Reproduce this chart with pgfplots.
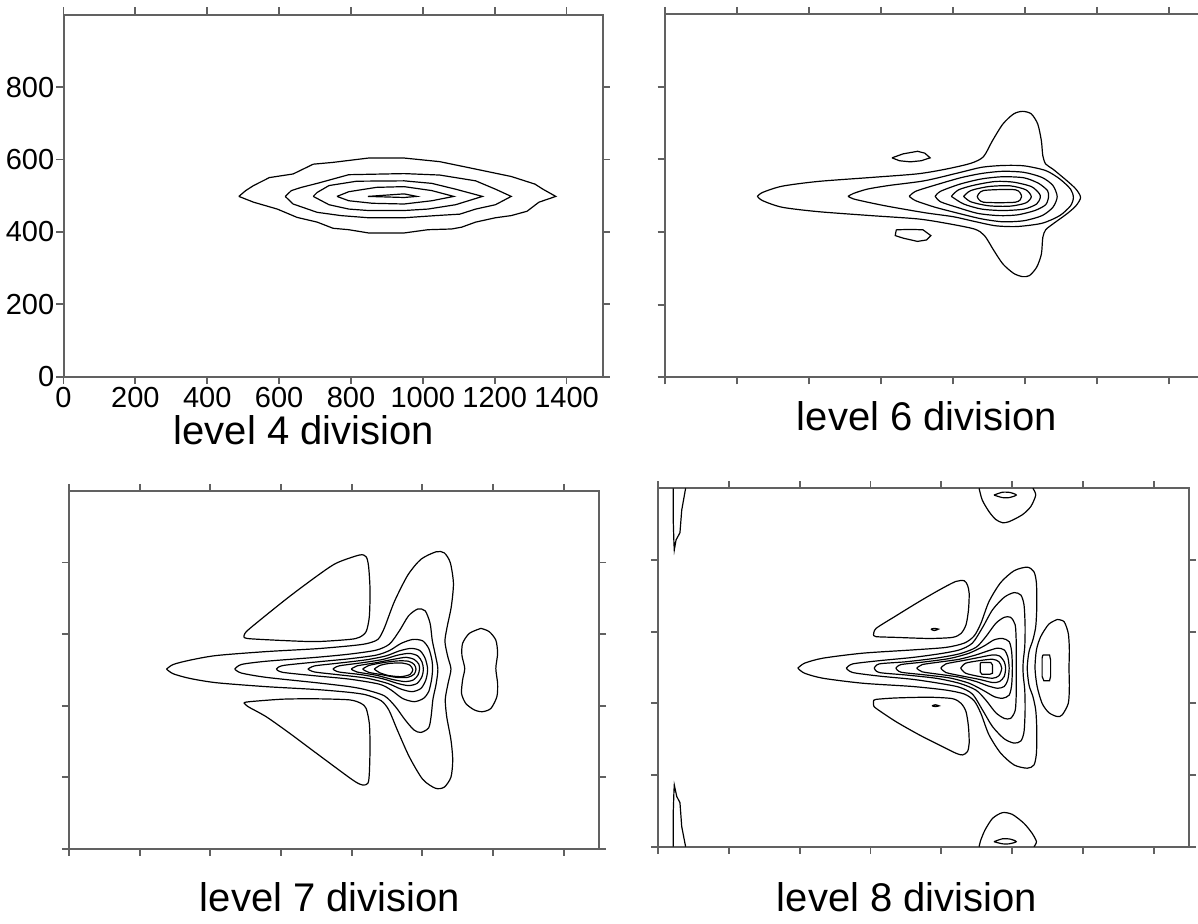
\documentclass[border=0pt]{standalone}
\usepackage{fontspec}
\setmainfont{Liberation Sans}
\usepackage{pgfplots}
\pgfplotsset{compat=1.18}
\pgfplotsset{
  panel/.style={scale only axis, anchor=south west,
    xmin=0, xmax=1500, ymin=0, ymax=1000,
    axis line style={draw=black!62, line width=1pt},
    every tick/.style={draw=black!62, line width=0.9pt},
    tick align=outside, major tick length=3.6pt,
    xtick={0,200,...,1400}, ytick={0,200,...,800},
    /pgf/number format/assume math mode=true,
    /pgf/number format/1000 sep={},
    tick label style={font=\fontsize{14.5}{16}\selectfont},
  },
  nolabels/.style={xticklabels={}, yticklabels={}},
  ct/.style={black, line width=0.6pt, mark=none, smooth, tension=0.45},
  cp/.style={black, line width=0.6pt, mark=none, sharp plot},
}
\begin{document}
\begin{tikzpicture}[x=1pt,y=1pt]
% ---------------- Panel 1: level 4 ----------------
\begin{axis}[panel, at={(31.75pt,273.65pt)}, width=269.5pt, height=181pt,
  xticklabel pos=lower, yticklabel pos=left,
  xticklabel style={yshift=2pt}, yticklabel style={xshift=2.5pt}]
\addplot[cp] coordinates {(488,498)(507,514)(529,528)(573,550)(639,560)(695,587)(750,592)(849,604)(948,604)(1047,594)(1125,578)(1246,553)(1312,532)(1334,518)(1370,498)(1323,482)(1290,457)(1246,445)(1202,439)(1147,427)(1108,413)(1080,408)(1014,406)(948,397)(849,397)(794,406)(750,410)(706,427)(650,440)(595,463)(529,482)(488,498)};
\addplot[cp] coordinates {(617,498)(634,514)(662,523)(706,534)(794,558)(948,561)(1047,557)(1147,541)(1202,518)(1246,498)(1202,475)(1147,463)(1103,449)(1036,445)(948,439)(849,439)(772,445)(706,454)(639,477)(617,498)};
\addplot[cp] coordinates {(695,498)(706,509)(739,528)(816,540)(948,541)(1025,534)(1091,518)(1166,498)(1091,475)(1014,463)(948,459)(849,459)(794,463)(739,475)(695,498)};
\addplot[cp] coordinates {(761,498)(794,511)(871,523)(948,525)(1025,514)(1086,498)(1025,486)(948,477)(860,479)(794,486)(761,498)};
\addplot[cp] coordinates {(847,498)(948,505)(983,498)(948,495)(847,498)};
\end{axis}
% ---------------- Panel 2: level 6 ----------------
\begin{axis}[panel, nolabels, at={(332.4pt,273.35pt)}, width=270pt, height=181.65pt]
\addplot[ct] coordinates {(257,498)(272,509)(326,526)(425,539)(573,550)(702,560)(781,573)(850,589)(885,607)(910,651)(939,697)(969,725)(994,732)(1018,725)(1036,697)(1046,651)(1050,610)(1058,587)(1078,573)(1117,541)(1142,518)(1155,495)(1142,472)(1117,450)(1078,422)(1058,406)(1050,385)(1046,339)(1033,303)(1013,280)(994,277)(969,286)(939,312)(914,349)(888,390)(860,408)(781,424)(702,436)(573,445)(425,456)(326,468)(272,486)(257,498)};
\addplot[ct] coordinates {(509,498)(524,506)(563,518)(623,528)(722,541)(821,564)(880,578)(939,583)(998,582)(1058,569)(1097,546)(1127,518)(1135,495)(1127,472)(1097,445)(1048,424)(979,415)(919,417)(860,429)(801,442)(722,453)(623,470)(563,482)(524,491)(509,498)};
\addplot[ct] coordinates {(679,498)(697,512)(751,529)(821,549)(880,561)(939,567)(998,564)(1048,550)(1078,528)(1090,497)(1078,468)(1048,445)(998,431)(939,428)(880,436)(821,450)(751,468)(697,486)(679,498)};
\addplot[ct] coordinates {(751,498)(766,512)(821,532)(880,546)(939,552)(998,549)(1038,534)(1063,514)(1066,497)(1058,475)(1028,459)(979,447)(929,445)(870,451)(811,468)(766,483)(751,498)};
\addplot[ct] coordinates {(796,498)(816,516)(860,529)(919,539)(969,537)(1018,525)(1040,506)(1043,495)(1033,477)(998,463)(939,459)(880,463)(830,477)(796,498)};
\addplot[ct] coordinates {(830,498)(850,514)(900,525)(959,527)(1003,516)(1018,497)(1003,480)(959,471)(900,472)(850,483)(830,498)};
\addplot[ct] coordinates {(868,497)(885,514)(974,516)(991,497)(974,482)(885,482)(868,497)};
\addplot[cp] coordinates {(631,604)(662,615)(702,622)(722,617)(737,604)(712,596)(682,593)(652,596)(631,604)};
\addplot[cp] coordinates {(643,406)(682,407)(717,406)(739,390)(727,378)(702,374)(662,383)(640,390)(643,406)};
\end{axis}
% ---------------- Panel 3: level 7 ----------------
\begin{axis}[panel, nolabels, at={(34.5pt,37.65pt)}, width=265pt, height=178.85pt]
\addplot[ct] coordinates {(276,502)(295,515)(342,527)(417,540)(558,551)(700,559)(794,567)(841,573)(874,585)(892,616)(921,691)(959,765)(996,809)(1039,830)(1062,827)(1079,800)(1088,742)(1082,677)(1070,619)(1064,579)(1072,537)(1081,502)(1073,463)(1065,418)(1069,369)(1081,304)(1086,248)(1081,200)(1062,172)(1037,169)(1001,194)(963,257)(930,330)(905,388)(883,414)(841,430)(794,437)(700,445)(558,453)(417,464)(342,476)(295,489)(276,502)};
\addplot[ct] coordinates {(469,502)(488,515)(558,524)(700,535)(794,544)(869,555)(907,572)(935,609)(961,651)(987,670)(1008,665)(1022,630)(1028,583)(1037,541)(1044,502)(1039,460)(1030,418)(1025,371)(1018,338)(996,325)(976,332)(949,363)(924,397)(893,427)(841,444)(794,453)(700,464)(558,479)(488,491)(469,502)};
\addplot[ct] coordinates {(587,502)(605,512)(700,522)(794,531)(869,541)(907,554)(940,574)(973,585)(1001,581)(1018,560)(1027,528)(1029,502)(1026,472)(1018,439)(1003,420)(977,411)(944,420)(911,444)(878,460)(794,474)(700,483)(605,493)(587,502)};
\addplot[ct] coordinates {(676,502)(695,511)(756,518)(841,528)(897,539)(935,553)(968,560)(993,554)(1008,532)(1015,502)(1010,472)(996,448)(971,439)(940,446)(902,462)(841,477)(756,487)(695,494)(676,502)};
\addplot[ct] coordinates {(747,502)(764,511)(831,520)(888,529)(930,541)(963,546)(987,539)(999,522)(1003,502)(999,481)(985,462)(961,456)(930,462)(888,475)(831,486)(764,494)(747,502)};
\addplot[ct] coordinates {(799,502)(815,511)(869,520)(916,529)(954,535)(977,529)(990,516)(992,502)(988,486)(975,472)(952,467)(916,473)(869,485)(815,494)(799,502)};
\addplot[ct] coordinates {(831,502)(848,512)(888,520)(930,525)(961,524)(977,515)(982,502)(977,488)(959,479)(926,479)(888,486)(848,493)(831,502)};
\addplot[ct] coordinates {(864,502)(879,512)(907,518)(943,519)(965,513)(973,500)(965,487)(940,481)(905,484)(879,492)(864,502)};
% triangles
\addplot[ct] coordinates {(495,591)(502,607)(558,653)(624,705)(700,761)(756,798)(822,821)(841,816)(848,788)(852,723)(850,649)(841,607)(822,591)(794,585)(700,579)(605,582)(511,587)(495,591)};
\addplot[ct] coordinates {(495,408)(511,411)(605,418)(700,419)(794,416)(827,406)(841,392)(850,350)(852,285)(850,211)(846,183)(831,178)(803,192)(700,267)(624,323)(558,369)(507,397)(495,408)};
% right island
\addplot[ct] coordinates {(1166,616)(1189,607)(1208,583)(1213,546)(1208,504)(1213,462)(1211,425)(1194,392)(1170,383)(1147,388)(1123,406)(1111,434)(1114,472)(1120,504)(1112,541)(1114,574)(1133,602)(1166,616)};
\end{axis}
% ---------------- Panel 4: level 8 ----------------
\begin{axis}[panel, nolabels, at={(329pt,38.65pt)}, width=265.5pt, height=179.2pt]
\addplot[ct] coordinates {(395,498)(414,512)(466,526)(579,540)(719,549)(813,556)(865,568)(893,588)(912,623)(935,684)(968,737)(1006,770)(1043,780)(1062,767)(1069,735)(1070,670)(1067,614)(1059,577)(1048,544)(1043,498)(1048,451)(1059,419)(1067,381)(1070,326)(1069,261)(1062,228)(1043,219)(1006,228)(968,261)(935,312)(912,372)(893,407)(865,426)(813,437)(719,447)(579,456)(466,470)(414,484)(395,498)};
\addplot[ct] coordinates {(532,498)(550,510)(625,519)(719,528)(794,538)(851,549)(888,568)(917,612)(945,661)(978,696)(1006,709)(1025,702)(1034,674)(1037,614)(1036,558)(1032,521)(1031,498)(1032,475)(1036,437)(1037,381)(1034,321)(1025,295)(1006,289)(978,301)(945,335)(917,381)(888,426)(851,445)(794,456)(719,467)(625,476)(550,486)(532,498)};
\addplot[ct] coordinates {(611,498)(625,510)(701,516)(785,526)(851,538)(898,556)(926,586)(954,623)(978,640)(996,640)(1009,619)(1012,568)(1012,521)(1012,498)(1012,475)(1012,428)(1009,380)(996,358)(978,358)(954,374)(926,409)(898,437)(851,456)(785,470)(701,479)(625,486)(611,498)};
\addplot[ct] coordinates {(672,498)(686,508)(748,515)(823,525)(879,540)(921,560)(949,577)(973,581)(992,572)(999,544)(1001,498)(999,451)(992,423)(973,414)(949,419)(921,435)(879,456)(823,471)(748,480)(686,487)(672,498)};
\addplot[ct] coordinates {(731,498)(746,508)(794,515)(851,523)(898,535)(931,546)(959,554)(978,549)(988,530)(992,498)(988,465)(978,447)(959,442)(931,449)(898,461)(851,473)(794,481)(746,488)(731,498)};
\addplot[ct] coordinates {(799,498)(813,510)(860,519)(907,528)(945,535)(965,532)(978,516)(982,498)(978,475)(965,461)(945,458)(907,467)(860,476)(813,486)(799,498)};
\addplot[ct] coordinates {(855,498)(869,512)(907,519)(945,523)(963,516)(971,498)(963,477)(945,470)(907,475)(869,484)(855,498)};
\addplot[cp] coordinates {(912,514)(940,514)(945,507)(945,484)(937,481)(915,481)(910,488)(910,510)(912,514)};
% island right
\addplot[ct] coordinates {(1128,634)(1147,628)(1159,595)(1162,549)(1161,498)(1162,447)(1159,400)(1142,368)(1128,363)(1104,374)(1085,400)(1071,447)(1065,498)(1069,549)(1081,586)(1104,621)(1128,634)};
\addplot[cp] coordinates {(1087,535)(1106,535)(1109,521)(1109,475)(1106,463)(1090,463)(1085,475)(1085,526)(1087,535)};
% small dots
\addplot[ct] coordinates {(771,607)(780,609)(792,607)(780,603)(771,607)};
\addplot[ct] coordinates {(774,393)(783,396)(794,393)(783,391)(774,393)};
% triangles
\addplot[ct] coordinates {(609,591)(616,609)(672,644)(738,684)(794,716)(841,740)(865,742)(874,730)(879,707)(877,660)(870,619)(856,595)(832,584)(766,581)(672,584)(616,586)(609,591)};
\addplot[ct] coordinates {(609,407)(616,411)(672,415)(766,417)(832,413)(856,400)(870,377)(877,335)(879,289)(874,265)(860,256)(841,261)(794,284)(738,312)(672,349)(616,386)(609,395)(609,407)};
% top / bottom lobes
\addplot[ct] coordinates {(907,1000)(916,967)(935,935)(954,913)(973,904)(992,907)(1029,926)(1053,949)(1067,981)(1059,1000)};
\addplot[ct] coordinates {(949,981)(973,989)(996,988)(1012,981)(992,974)(973,974)(949,981)};
\addplot[ct] coordinates {(907,0)(912,19)(924,47)(945,79)(973,95)(1001,90)(1034,65)(1057,37)(1069,14)(1062,0)};
\addplot[ct] coordinates {(949,14)(973,22)(996,21)(1012,14)(992,8)(973,8)(949,14)};
% left edge curves
\addplot[cp] coordinates {(43,1000)(43,912)(45,847)(46,828)(51,856)(62,876)(67,939)(78,1000)};
\addplot[cp] coordinates {(43,0)(43,93)(45,154)(46,172)(53,140)(62,123)(67,56)(78,0)};
\end{axis}
% ---------------- Titles ----------------
\node[anchor=base, font=\fontsize{20}{24}\selectfont, inner sep=0pt] at (151.9pt,239.5pt) {level 4 division};
\node[anchor=base, font=\fontsize{20}{24}\selectfont, inner sep=0pt] at (463.5pt,246.5pt) {level 6 division};
\node[anchor=base, font=\fontsize{20}{24}\selectfont, inner sep=0pt] at (165pt,6pt) {level 7 division};
\node[anchor=base, font=\fontsize{20}{24}\selectfont, inner sep=0pt] at (453.5pt,6pt) {level 8 division};
\pgfresetboundingbox
\useasboundingbox (0,0) rectangle (599pt,462pt);
\end{tikzpicture}
\end{document}
